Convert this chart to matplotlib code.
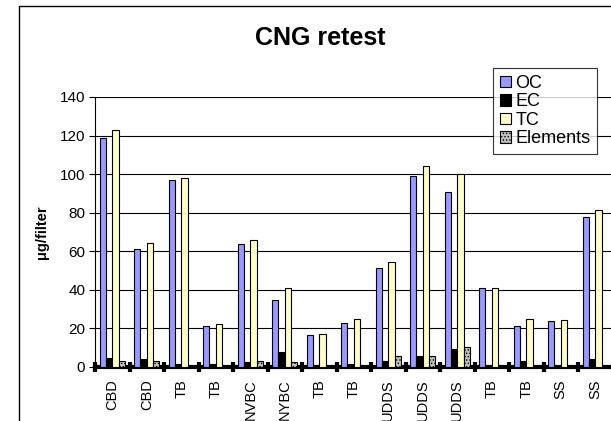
import matplotlib
matplotlib.use("Agg")
import matplotlib.pyplot as plt
from matplotlib.patches import Rectangle
import numpy as np

plt.rcParams['font.family'] = ['Liberation Sans', 'DejaVu Sans']
plt.rcParams['hatch.linewidth'] = 0.6

categories = ["CBD", "CBD", "TB", "TB", "NVBC", "NYBC", "TB", "TB",
              "UDDS", "UDDS", "UDDS", "TB", "TB", "SS", "SS"]
oc = [119, 61, 97, 21.5, 64, 34.5, 16.4, 23, 51.5, 99, 91, 41.2, 21.5, 23.8, 78]
ec = [4.5, 4, 1.5, 1.5, 2.5, 7.8, 0.3, 1.5, 3, 5.5, 9.2, 0.3, 3, 0.3, 4]
tc = [123, 64.5, 98, 22.2, 66, 41.2, 17, 25, 54.5, 104, 100, 41.2, 25, 24.4, 81.5]
elements = [3, 3, 0.5, 0.3, 3.2, 2.4, 0.2, 0.3, 5.5, 5.5, 10.5, 0.2, 0.3, 0.2, 0.3]
series_names = ["OC", "EC", "TC", "Elements"]
yticks = [0, 20, 40, 60, 80, 100, 120, 140]

W, H = 611, 421
fig = plt.figure(figsize=(W / 100, H / 100), dpi=100)

# outer chart border (cut off at right and bottom)
fig.patches.append(Rectangle((19 / W, -0.1), 1.2, 1.1 - 6 / H,
                             transform=fig.transFigure, fill=False,
                             edgecolor='black', linewidth=1.0))

left = 95 / W
bottom = (H - 367) / H
width = 15 * 34.5 / W
height = (367 - 97) / H
ax = fig.add_axes([left, bottom, width, height])

x = np.arange(len(categories))
w = 1 / 5.5
data = [oc, ec, tc, elements]
colors = ['#9999FF', '#000000', '#FFFFCC', '#C0C0C0']
hatches = [None, None, None, '.....']
for i, (vals, col, hat, name) in enumerate(zip(data, colors, hatches, series_names)):
    ax.bar(x + (i - 1.5) * w, vals, width=w, color=col, edgecolor='black',
           linewidth=0.8, hatch=hat, label=name, zorder=3)

ax.set_xlim(-0.5, len(categories) - 0.5)
ax.set_ylim(0, 140)
ax.set_yticks(yticks)
ax.set_yticklabels([str(v) for v in yticks], fontsize=11)
ax.yaxis.grid(True, color='black', linewidth=0.8, zorder=0)
ax.set_axisbelow(True)

ax.set_xticks(x)
ax.set_xticklabels(categories, rotation=90, fontsize=10.5)
ax.tick_params(axis='x', which='major', length=0, pad=9)
ax.set_xticks(np.arange(-0.5, len(categories), 1.0), minor=True)
ax.tick_params(axis='x', which='minor', length=7, width=3, direction='inout', color='black')
ax.tick_params(axis='y', length=4, width=0.8, direction='out', pad=3)

for s in ['top', 'right']:
    ax.spines[s].set_visible(False)
ax.spines['left'].set_linewidth(0.8)
ax.spines['bottom'].set_linewidth(3)

fig.text(320 / W, 1 - 45 / H, "CNG retest", ha='center', va='baseline',
         fontsize=18, fontweight='bold')
fig.text(42 / W, 1 - 232 / H, "\u03bcg/filter", ha='center', va='center',
         rotation=90, fontsize=10.5, fontweight='bold')

leg = ax.legend(loc='upper left', bbox_to_anchor=(493 / W, 1 - 68 / H),
                bbox_transform=fig.transFigure, frameon=True, fancybox=False,
                edgecolor='black', fontsize=13, handlelength=0.6, handleheight=0.6,
                handletextpad=0.25, labelspacing=0.08, borderpad=0.38,
                borderaxespad=0)
leg.get_frame().set_linewidth(0.8)
leg.set_zorder(10)

fig.savefig("out.png", dpi=100)
